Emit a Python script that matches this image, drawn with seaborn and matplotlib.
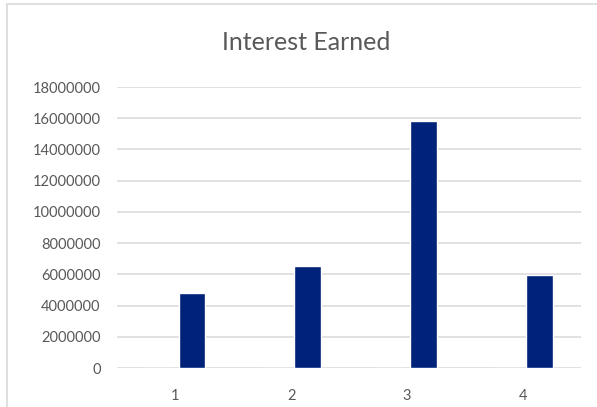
import matplotlib
matplotlib.use("Agg")
import matplotlib.pyplot as plt
from matplotlib.patches import Rectangle
import seaborn as sns
import pandas as pd

# Workbook columns: the period number was selected along with the interest,
# so it is charted as its own (tiny) series next to the interest bars.
periods = [1, 2, 3, 4]
year_values = [1, 2, 3, 4]
interest_earned = [4820000, 6550000, 15800000, 5950000]
y_ticks = list(range(0, 18000001, 2000000))
title = "Interest Earned"

df = pd.DataFrame({
    "Period": periods * 2,
    "Series": ["Year"] * len(periods) + ["Interest Earned"] * len(periods),
    "Value": year_values + interest_earned,
})

sns.set_theme(style="white")
plt.rcParams["font.family"] = ["Lato", "DejaVu Sans"]

fig = plt.figure(figsize=(5.97, 4.07), dpi=100)
ax = fig.add_axes([117.3 / 597, 1 - 368 / 407, (581 - 117.3) / 597, (368 - 87) / 407])

sns.barplot(
    data=df, x="Period", y="Value", hue="Series",
    hue_order=["Year", "Interest Earned"],
    palette={"Year": "#4472C4", "Interest Earned": "#002279"},
    width=0.569, gap=0.2, saturation=1, ax=ax, legend=False,
)

ax.set_ylim(0, 18000000)
ax.set_yticks(y_ticks)
ax.set_yticklabels([str(t) for t in y_ticks])
ax.set_xlabel("")
ax.set_ylabel("")
ax.yaxis.grid(True, color="#d9d9d9", linewidth=1.1)
ax.set_axisbelow(True)
for s in ax.spines.values():
    s.set_visible(False)
ax.tick_params(axis="y", length=0, pad=12, labelsize=10.5, labelcolor="#595959")
ax.tick_params(axis="x", length=0, pad=15, labelsize=10.5, labelcolor="#595959")

fig.text(306 / 597, 1 - 50 / 407, title, ha="center", va="baseline",
         fontsize=18, color="#595959")

# chart-area frame
fig.patches.append(Rectangle((6.5 / 597, -0.2), 1.2, 1.2 - 4 / 407,
                             transform=fig.transFigure, fill=False,
                             edgecolor="#d9d9d9", linewidth=1.2))

fig.savefig("out.png", dpi=100, facecolor="white")
